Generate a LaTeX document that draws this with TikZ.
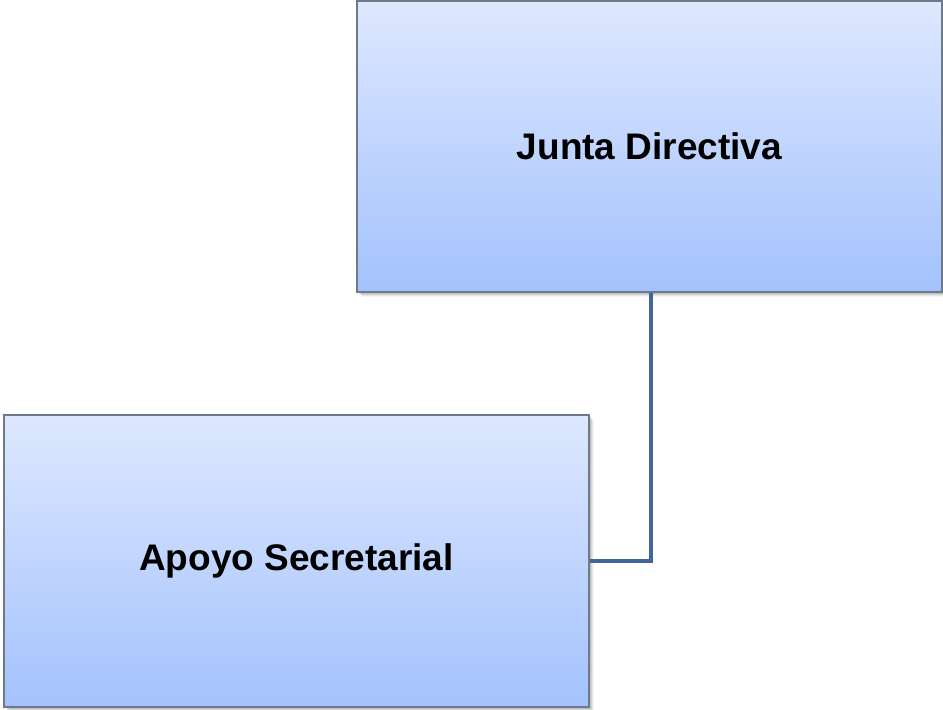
\documentclass[tikz,border=0pt]{standalone}
\usepackage{fontspec}
\setmainfont{Liberation Sans}
\begin{document}
\definecolor{boxtop}{HTML}{DEE8FE}
\definecolor{boxbot}{HTML}{A3C2FD}
\definecolor{boxedge}{HTML}{6F7A89}
\definecolor{linkblue}{HTML}{41679A}
\begin{tikzpicture}[x=1bp,y=-1bp,
  orgbox/.style={draw=boxedge, line width=1.3bp, top color=boxtop, bottom color=boxbot,
    font=\fontsize{37bp}{44bp}\selectfont\bfseries, text=black, inner sep=0pt},
  link/.style={draw=linkblue, line width=4bp}]
  \useasboundingbox (0,0) rectangle (943,710);
  % soft drop shadows
  \foreach \d/\o in {1/0.12,2/0.10,3/0.08,4/0.06,5/0.04}{
    \fill[black,opacity=\o] (357+\d,1+\d) rectangle (942+\d,292+\d);
    \fill[black,opacity=\o] (4+\d,415+\d) rectangle (589+\d,707+\d);
  }
  \node[orgbox, minimum width=585bp, minimum height=291bp] (junta) at (649.5,146.5) {Junta Directiva};
  \node[orgbox, minimum width=585bp, minimum height=292bp] (apoyo) at (296.5,561) {Apoyo Secretarial};
  \draw[link] ([xshift=1.5bp]junta.south) |- (apoyo.east);
\end{tikzpicture}
\end{document}
